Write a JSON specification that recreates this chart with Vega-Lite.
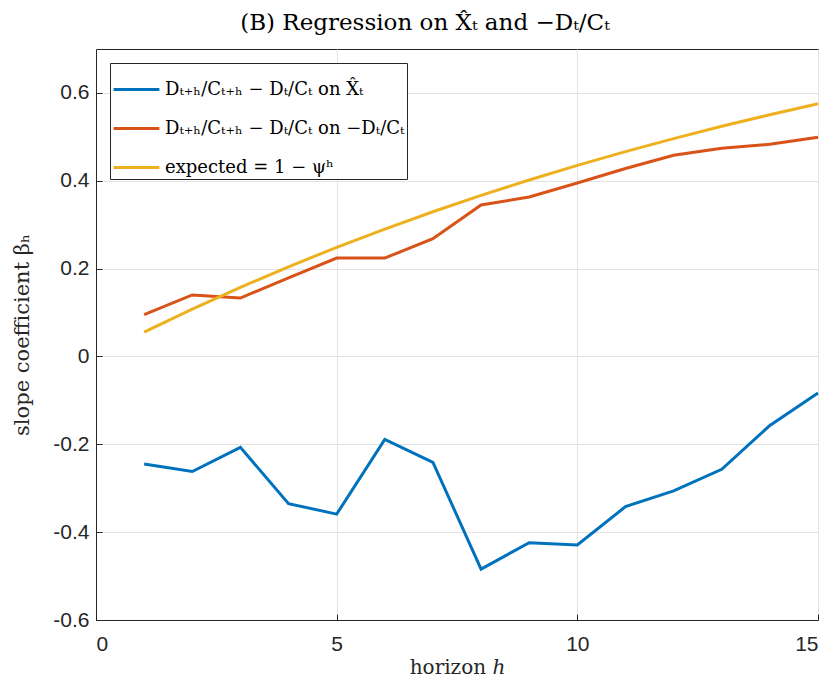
{
  "$schema": "https://vega.github.io/schema/vega-lite/v6.json",
  "width": 722,
  "height": 571,
  "autosize": {"type": "none"},
  "padding": {"left": 96, "top": 49, "right": 17, "bottom": 68},
  "background": "white",
  "title": {"text": "(B) Regression on X̂ₜ and −Dₜ/Cₜ", "font": "DejaVu Serif", "fontSize": 23, "fontWeight": "normal", "color": "#000000", "offset": 14, "anchor": "middle", "dx": -32},
  "config": {
    "view": {"stroke": "#262626", "strokeWidth": 1},
    "axis": {
      "domainColor": "#262626", "domainWidth": 1,
      "tickColor": "#262626", "tickSize": -6,
      "gridColor": "#e3e3e3", "gridWidth": 1,
      "labelFont": "Liberation Sans", "labelFontSize": 21, "labelColor": "#262626",
      "titleFont": "DejaVu Serif", "titleFontSize": 20, "titleFontWeight": "normal", "titleColor": "#262626"
    }
  },
  "data": {"values": [
    {"h": 1, "beta": -0.245, "s": "a"}, {"h": 2, "beta": -0.262, "s": "a"}, {"h": 3, "beta": -0.207, "s": "a"},
    {"h": 4, "beta": -0.335, "s": "a"}, {"h": 5, "beta": -0.359, "s": "a"}, {"h": 6, "beta": -0.189, "s": "a"},
    {"h": 7, "beta": -0.241, "s": "a"}, {"h": 8, "beta": -0.484, "s": "a"}, {"h": 9, "beta": -0.424, "s": "a"},
    {"h": 10, "beta": -0.429, "s": "a"}, {"h": 11, "beta": -0.342, "s": "a"}, {"h": 12, "beta": -0.306, "s": "a"},
    {"h": 13, "beta": -0.257, "s": "a"}, {"h": 14, "beta": -0.157, "s": "a"}, {"h": 15, "beta": -0.083, "s": "a"},
    {"h": 1, "beta": 0.095, "s": "b"}, {"h": 2, "beta": 0.140, "s": "b"}, {"h": 3, "beta": 0.133, "s": "b"},
    {"h": 4, "beta": 0.179, "s": "b"}, {"h": 5, "beta": 0.224, "s": "b"}, {"h": 6, "beta": 0.224, "s": "b"},
    {"h": 7, "beta": 0.268, "s": "b"}, {"h": 8, "beta": 0.345, "s": "b"}, {"h": 9, "beta": 0.363, "s": "b"},
    {"h": 10, "beta": 0.395, "s": "b"}, {"h": 11, "beta": 0.428, "s": "b"}, {"h": 12, "beta": 0.458, "s": "b"},
    {"h": 13, "beta": 0.474, "s": "b"}, {"h": 14, "beta": 0.483, "s": "b"}, {"h": 15, "beta": 0.499, "s": "b"},
    {"h": 1, "beta": 0.0555, "s": "c"}, {"h": 2, "beta": 0.1079, "s": "c"}, {"h": 3, "beta": 0.1574, "s": "c"},
    {"h": 4, "beta": 0.2042, "s": "c"}, {"h": 5, "beta": 0.2484, "s": "c"}, {"h": 6, "beta": 0.2901, "s": "c"},
    {"h": 7, "beta": 0.3295, "s": "c"}, {"h": 8, "beta": 0.3667, "s": "c"}, {"h": 9, "beta": 0.4018, "s": "c"},
    {"h": 10, "beta": 0.4350, "s": "c"}, {"h": 11, "beta": 0.4664, "s": "c"}, {"h": 12, "beta": 0.4960, "s": "c"},
    {"h": 13, "beta": 0.5240, "s": "c"}, {"h": 14, "beta": 0.5504, "s": "c"}, {"h": 15, "beta": 0.5753, "s": "c"}
  ]},
  "mark": {"type": "line", "strokeWidth": 3},
  "encoding": {
    "x": {"field": "h", "type": "quantitative", "scale": {"domain": [0, 15], "nice": false},
      "axis": {"values": [0, 5, 10, 15], "title": "horizon ℎ", "labelPadding": 19, "titlePadding": 3}},
    "y": {"field": "beta", "type": "quantitative", "scale": {"domain": [-0.6, 0.7], "nice": false},
      "axis": {"values": [-0.6, -0.4, -0.2, 0, 0.2, 0.4, 0.6], "title": "slope coefficient βₕ", "labelPadding": 13, "titlePadding": 20, "titleFontSize": 21,
        "labelExpr": "replace(format(datum.value, '.1~f'), '−', '-')"}},
    "color": {"field": "s", "type": "nominal",
      "scale": {"domain": ["a", "b", "c"], "range": ["#0072BD", "#D95319", "#EDB120"]},
      "legend": {"title": null, "orient": "top-left", "offset": 14, "padding": 2, "rowPadding": 5,
        "strokeColor": "#262626", "fillColor": "white",
        "symbolType": "stroke", "symbolSize": 2100, "symbolStrokeWidth": 3,
        "labelFont": "DejaVu Serif", "labelFontSize": 18, "labelColor": "#000000", "labelLimit": 400,
        "labelExpr": "datum.value == 'a' ? 'Dₜ₊ₕ/Cₜ₊ₕ − Dₜ/Cₜ on X̂ₜ' : datum.value == 'b' ? 'Dₜ₊ₕ/Cₜ₊ₕ − Dₜ/Cₜ on −Dₜ/Cₜ' : 'expected = 1 − ψʰ'"}}
  }
}
